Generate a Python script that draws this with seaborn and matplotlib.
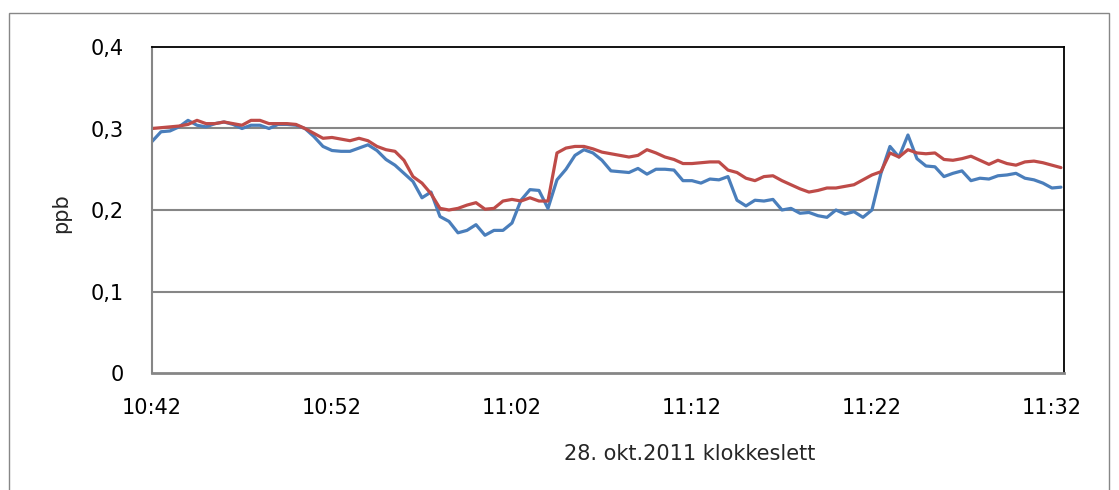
import matplotlib
matplotlib.use("Agg")
import matplotlib.pyplot as plt
from matplotlib.patches import Rectangle
import seaborn as sns
import pandas as pd

# måledata, en verdi hvert 30. sekund fra 10:42
blaa = [0.284, 0.296, 0.297, 0.302, 0.310, 0.304, 0.302, 0.306, 0.308, 0.305,
        0.300, 0.304, 0.304, 0.300, 0.305, 0.305, 0.304, 0.300, 0.290, 0.278,
        0.273, 0.272, 0.272, 0.276, 0.280, 0.273, 0.262, 0.255, 0.245, 0.235,
        0.215, 0.222, 0.192, 0.186, 0.172, 0.175, 0.182, 0.169, 0.175, 0.175,
        0.184, 0.212, 0.225, 0.224, 0.202, 0.237, 0.250, 0.267, 0.274, 0.270,
        0.261, 0.248, 0.247, 0.246, 0.251, 0.244, 0.250, 0.250, 0.249, 0.236,
        0.236, 0.233, 0.238, 0.237, 0.241, 0.212, 0.205, 0.212, 0.211, 0.213,
        0.200, 0.202, 0.196, 0.197, 0.193, 0.191, 0.200, 0.195, 0.198, 0.191,
        0.200, 0.245, 0.278, 0.265, 0.292, 0.263, 0.254, 0.253, 0.241, 0.245,
        0.248, 0.236, 0.239, 0.238, 0.242, 0.243, 0.245, 0.239, 0.237, 0.233,
        0.227, 0.228]
roed = [0.300, 0.301, 0.302, 0.303, 0.305, 0.310, 0.306, 0.306, 0.308, 0.306,
        0.304, 0.310, 0.310, 0.306, 0.306, 0.306, 0.305, 0.300, 0.294, 0.288,
        0.289, 0.287, 0.285, 0.288, 0.285, 0.278, 0.274, 0.272, 0.261, 0.241,
        0.233, 0.220, 0.202, 0.200, 0.202, 0.206, 0.209, 0.201, 0.202, 0.211,
        0.213, 0.211, 0.215, 0.211, 0.211, 0.270, 0.276, 0.278, 0.278, 0.275,
        0.271, 0.269, 0.267, 0.265, 0.267, 0.274, 0.270, 0.265, 0.262, 0.257,
        0.257, 0.258, 0.259, 0.259, 0.249, 0.246, 0.239, 0.236, 0.241, 0.242,
        0.236, 0.231, 0.226, 0.222, 0.224, 0.227, 0.227, 0.229, 0.231, 0.237,
        0.243, 0.247, 0.270, 0.265, 0.274, 0.270, 0.269, 0.270, 0.262, 0.261,
        0.263, 0.266, 0.261, 0.256, 0.261, 0.257, 0.255, 0.259, 0.260, 0.258,
        0.255, 0.252]
minutter = [i * 0.5 for i in range(len(blaa))]

tick_min = [0, 10, 20, 30, 40, 50]
tick_tekst = ["10:42", "10:52", "11:02", "11:12", "11:22", "11:32"]
y_ticks = [0, 0.1, 0.2, 0.3, 0.4]
y_tekst = ["0", "0,1", "0,2", "0,3", "0,4"]

df = pd.DataFrame({"min": minutter * 2,
                   "ppb": blaa + roed,
                   "serie": ["blå"] * len(blaa) + ["rød"] * len(roed)})

sns.set_style("white")
plt.rcParams["font.family"] = ["DejaVu Sans"]

fig = plt.figure(figsize=(11.19, 4.9), dpi=100)
ax = fig.add_axes([152 / 1119, 1 - 373 / 490, 912 / 1119, 326 / 490])

for y in [0.1, 0.2, 0.3]:
    ax.axhline(y, color="#868686", lw=1.5, zorder=0)

sns.lineplot(data=df, x="min", y="ppb", hue="serie",
             palette={"blå": "#4A7EBB", "rød": "#BE4B48"},
             lw=2.3, legend=False, ax=ax)

ax.set_xlim(0, 50.67)
ax.set_ylim(0, 0.4)
ax.set_xticks(tick_min)
ax.set_xticklabels(tick_tekst)
ax.set_yticks(y_ticks)
ax.set_yticklabels(y_tekst)
ax.tick_params(axis="both", length=0, labelsize=15, colors="black")
ax.tick_params(axis="y", pad=20)
ax.tick_params(axis="x", pad=18)

for s in ["left", "bottom"]:
    ax.spines[s].set_color("#868686")
ax.spines["left"].set_linewidth(1.5)
ax.spines["bottom"].set_linewidth(2)
for s in ["top", "right"]:
    ax.spines[s].set_color("black")
    ax.spines[s].set_linewidth(1.3)

ax.set_xlabel("28. okt.2011 klokkeslett", fontsize=15)
ax.xaxis.set_label_coords(0.59, -0.218)
ax.set_ylabel("ppb", fontsize=15)
ax.yaxis.set_label_coords(-0.089, 0.49)

fig.add_artist(Rectangle((9 / 1119, -0.05), 1100 / 1119, 1 - 13 / 490 + 0.05,
                         transform=fig.transFigure, fill=False,
                         edgecolor="#878787", lw=1))

fig.savefig("out.png", dpi=100)
